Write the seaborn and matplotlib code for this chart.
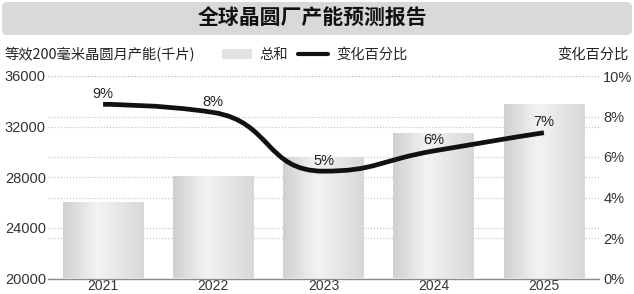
import math
import numpy as np
import pandas as pd
import matplotlib
matplotlib.use("Agg")
import matplotlib.pyplot as plt
import seaborn as sns
from matplotlib.patches import FancyBboxPatch, Patch, PathPatch
from matplotlib.lines import Line2D
from matplotlib.path import Path
from matplotlib.colors import LinearSegmentedColormap

# ---------------- data ----------------
years = ["2021", "2022", "2023", "2024", "2025"]
capacity = [26000, 28000, 29500, 31400, 33700]
change_pct = [8.6, 8.2, 5.3, 6.3, 7.2]
left_ticks = [20000, 24000, 28000, 32000, 36000]
right_ticks = [0, 2, 4, 6, 8, 10]

title = "全球晶圆厂产能预测报告"
left_label = "等效200毫米晶圆月产能(千片)"
right_label = "变化百分比"
legend_bar = "总和"
legend_line = "变化百分比"

CJK = ["Noto Sans CJK SC", "DejaVu Sans"]
NUM = ["Liberation Sans", "DejaVu Sans"]

sns.set_theme(style="white")
plt.rcParams["font.family"] = NUM

W, H = 634, 294
fig = plt.figure(figsize=(W / 100, H / 100), dpi=100)
fig.patch.set_facecolor("white")

rect = [48 / W, 1 - 278.5 / H, 551 / W, 202.5 / H]
axg = fig.add_axes(rect, label="grid_right")
ax = fig.add_axes(rect, label="bars")
axl = fig.add_axes(rect, label="line")

GRID = dict(linestyle=(0, (1, 1.6)), color="#c6c6c6", linewidth=0.85)
TICKC = "#333333"

# ---------- right axis (bottom layer) ----------
axg.set_xlim(-0.5, 4.5)
axg.set_ylim(0, 10)
axg.set_xticks([])
axg.yaxis.tick_right()
axg.set_yticks(right_ticks)
axg.set_yticklabels([f"{t}%" for t in right_ticks])
axg.tick_params(axis="y", length=0, pad=3, labelsize=10.5, labelcolor=TICKC)
axg.yaxis.grid(True, **GRID)
axg.xaxis.grid(False)
for s in axg.spines.values():
    s.set_visible(False)
axg.set_facecolor("white")

# ---------- bars ----------
df = pd.DataFrame({"year": years, "capacity": capacity})
sns.barplot(data=df, x="year", y="capacity", ax=ax, width=0.73,
            color="#e2e2e2", saturation=1, edgecolor="none")
cmap = LinearSegmentedColormap.from_list(
    "bargrad", [(0, "#d0d0d0"), (0.42, "#f3f3f3"), (1, "#d8d8d8")])
grad = np.linspace(0, 1, 256).reshape(1, -1)
for p in list(ax.patches):
    x0, y0 = p.get_x(), p.get_y()
    w, h = p.get_width(), p.get_height()
    ax.imshow(grad, extent=[x0, x0 + w, y0, y0 + h], aspect="auto", cmap=cmap,
              vmin=0, vmax=1, zorder=1.2, interpolation="bilinear")
    p.set_facecolor("none")
ax.set_xlim(-0.5, 4.5)
ax.set_ylim(20000, 36000)
ax.set_yticks(left_ticks)
ax.set_yticklabels([str(t) for t in left_ticks])
ax.set_xlabel("")
ax.set_ylabel("")
ax.set_facecolor("none")
ax.set_axisbelow(True)
ax.yaxis.grid(True, **GRID)
ax.xaxis.grid(False)
ax.tick_params(axis="y", length=0, pad=1.5, labelsize=10.5, labelcolor=TICKC)
ax.tick_params(axis="x", length=0, pad=0, labelsize=10, labelcolor=TICKC)
for s in ["left", "right", "top"]:
    ax.spines[s].set_visible(False)
ax.spines["bottom"].set_color("#8a8a8a")
ax.spines["bottom"].set_linewidth(1.0)

# ---------- smoothed line ----------
axl.set_xlim(-0.5, 4.5)
axl.set_ylim(0, 10)
axl.set_axis_off()
axl.set_facecolor("none")

P = axl.transData.transform(np.column_stack([np.arange(len(change_pct)), change_pct]))


def smooth_path(P, smooth=0.5):
    n = len(P)
    verts = [tuple(P[0])]
    codes = [Path.MOVETO]
    cp0 = tuple(P[0])
    px, py = P[0]
    nxt = None
    for i in range(1, n):
        x, y = P[i]
        if i == n - 1:
            cp1 = (x, y)
        else:
            nx, ny = P[i + 1]
            vx, vy = nx - px, ny - py
            lp = math.hypot(x - px, y - py)
            ln = math.hypot(nx - x, ny - y)
            r = ln / (ln + lp)
            ncx = x + vx * smooth * r
            ncy = y + vy * smooth * r
            ncx = max(min(ncx, max(nx, x)), min(nx, x))
            ncy = max(min(ncy, max(ny, y)), min(ny, y))
            vx, vy = ncx - x, ncy - y
            c1x = x - vx * lp / ln
            c1y = y - vy * lp / ln
            c1x = max(min(c1x, max(px, x)), min(px, x))
            c1y = max(min(c1y, max(py, y)), min(py, y))
            vx, vy = x - c1x, y - c1y
            nxt = (x + vx * ln / lp, y + vy * ln / lp)
            cp1 = (c1x, c1y)
        verts += [cp0, cp1, (x, y)]
        codes += [Path.CURVE4] * 3
        cp0 = nxt
        px, py = x, y
    return np.array(verts), codes


v_disp, codes = smooth_path(P)
v_data = axl.transData.inverted().transform(v_disp)
axl.add_patch(PathPatch(Path(v_data, codes), fill=False, edgecolor="#111111",
                        linewidth=3.4, capstyle="butt", joinstyle="round"))
for i, v in enumerate(change_pct):
    axl.annotate(f"{v:.0f}%", (i, v), xytext=(0, 2.5), textcoords="offset points",
                 ha="center", va="bottom", fontsize=10.5, color="#222222")

# ---------- header ----------
band = FancyBboxPatch((2 / W, 1 - 35 / H), 630 / W, 33 / H,
                      boxstyle="round,pad=0,rounding_size=0.008",
                      mutation_aspect=W / H, transform=fig.transFigure,
                      facecolor="#d9d9d9", edgecolor="none")
fig.add_artist(band)
fig.text(312 / W, 1 - 18.5 / H, title, ha="center", va="center", fontsize=15,
         fontweight="bold", family=CJK, color="#111111")

fig.text(5 / W, 1 - 55 / H, left_label, ha="left", va="center", fontsize=10.3,
         family=CJK, color="#222222")
fig.text(628 / W, 1 - 55 / H, right_label, ha="right", va="center", fontsize=10.3,
         family=CJK, color="#222222")

handles = [Patch(facecolor="#e3e3e3", edgecolor="none", label=legend_bar),
           Line2D([], [], color="#111111", lw=3, label=legend_line)]
fig.legend(handles=handles, loc="center left", bbox_to_anchor=(222 / W, 1 - 55 / H),
           ncol=2, frameon=False, prop={"family": CJK, "size": 10.3},
           handlelength=2.1, handleheight=0.65, handletextpad=0.55,
           columnspacing=0.7, borderpad=0, borderaxespad=0)

fig.savefig("out.png", dpi=100)
